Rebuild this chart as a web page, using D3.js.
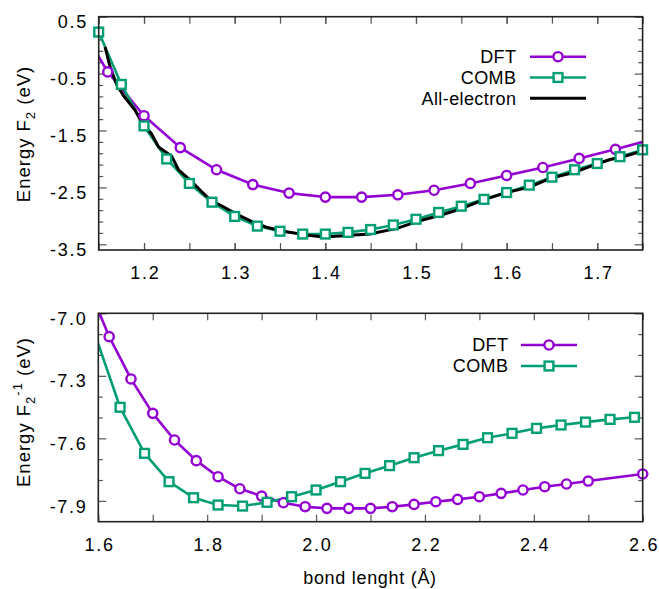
<!DOCTYPE html>
<html><head><meta charset="utf-8">
<script src="https://cdn.jsdelivr.net/npm/d3@7"></script>
<style>
body{margin:0;background:#fff}
svg{display:block}
text{font-family:"Liberation Sans",Arial,Helvetica,sans-serif;fill:#000}
</style></head>
<body><svg id="c" width="659" height="589"></svg>
<script>
// ---------- data (top panel: F2) ----------
const topDftX  = [1.12, 1.16, 1.20, 1.24, 1.28, 1.32, 1.36, 1.40, 1.44, 1.48, 1.52, 1.56, 1.60, 1.64, 1.68, 1.72, 1.76];
const topDftY  = [0.60, -0.47, -1.24, -1.80, -2.19, -2.45, -2.60, -2.67, -2.67, -2.63, -2.55, -2.43, -2.29, -2.15, -1.99, -1.83, -1.66];
const topCombX = [1.150, 1.175, 1.200, 1.225, 1.250, 1.275, 1.300, 1.325, 1.350, 1.375, 1.400, 1.425, 1.450, 1.475, 1.500, 1.525, 1.550, 1.575, 1.600, 1.625, 1.650, 1.675, 1.700, 1.725, 1.750];
const topCombY = [0.23, -0.69, -1.42, -2.00, -2.43, -2.76, -3.01, -3.18, -3.27, -3.32, -3.32, -3.29, -3.24, -3.16, -3.06, -2.94, -2.83, -2.71, -2.59, -2.46, -2.32, -2.19, -2.08, -1.96, -1.84];
const topAeX   = [1.157, 1.1625, 1.170, 1.177, 1.190, 1.199, 1.208, 1.216, 1.2305, 1.238, 1.251, 1.262, 1.273, 1.2875, 1.302, 1.319, 1.335, 1.354, 1.376, 1.398, 1.420, 1.449, 1.479, 1.501, 1.527, 1.549, 1.574, 1.600, 1.626, 1.648, 1.674, 1.696, 1.714, 1.729, 1.750];
const topAeY   = [-0.03, -0.38, -0.70, -0.88, -1.14, -1.40, -1.55, -1.79, -1.95, -2.19, -2.37, -2.55, -2.72, -2.84, -2.97, -3.10, -3.20, -3.27, -3.33, -3.37, -3.35, -3.32, -3.22, -3.10, -2.99, -2.88, -2.72, -2.59, -2.49, -2.34, -2.24, -2.11, -2.01, -1.96, -1.86];

// ---------- data (bottom panel: F2^-1) ----------
const botDftX  = [1.58, 1.62, 1.66, 1.70, 1.74, 1.78, 1.82, 1.86, 1.90, 1.94, 1.98, 2.02, 2.06, 2.10, 2.14, 2.18, 2.22, 2.26, 2.30, 2.34, 2.38, 2.42, 2.46, 2.50, 2.60];
const botDftY  = [-6.86, -7.112, -7.315, -7.480, -7.608, -7.707, -7.784, -7.842, -7.877, -7.909, -7.928, -7.936, -7.936, -7.936, -7.928, -7.917, -7.904, -7.893, -7.880, -7.864, -7.848, -7.832, -7.819, -7.805, -7.771];
const botCombX = [1.595, 1.640, 1.685, 1.730, 1.775, 1.820, 1.865, 1.910, 1.955, 2.000, 2.045, 2.090, 2.135, 2.180, 2.225, 2.270, 2.315, 2.360, 2.405, 2.450, 2.495, 2.540, 2.585];
const botCombY = [-7.11, -7.451, -7.672, -7.808, -7.885, -7.920, -7.925, -7.907, -7.880, -7.848, -7.808, -7.768, -7.731, -7.693, -7.659, -7.629, -7.597, -7.576, -7.552, -7.536, -7.522, -7.509, -7.499];

// ---------- ticks ----------
const topXTicks   = [1.15, 1.20, 1.25, 1.30, 1.35, 1.40, 1.45, 1.50, 1.55, 1.60, 1.65, 1.70, 1.75];
const topXLabels  = [1.2, 1.3, 1.4, 1.5, 1.6, 1.7];
const topYLabels  = [0.5, -0.5, -1.5, -2.5, -3.5];
const topYMinor   = [0.3, 0.1, -0.1, -0.3, -0.7, -0.9, -1.1, -1.3, -1.7, -1.9, -2.1, -2.3, -2.7, -2.9, -3.1, -3.3];
const botXTicks   = [1.7, 1.9, 2.1, 2.3, 2.5];
const botXLabels  = [1.6, 1.8, 2.0, 2.2, 2.4, 2.6];
const botYLabels  = [-7.0, -7.3, -7.6, -7.9];
const botYMinor   = [-7.1, -7.2, -7.4, -7.5, -7.7, -7.8];

const PURPLE = "#9400d3", GREEN = "#009e73";
const NUM_LS = 1.7;
const svg = d3.select("#c");

function zip(xs, ys){ return xs.map((x,i)=>[x, ys[i]]); }

function panel(cfg){
  const x = d3.scaleLinear().domain(cfg.xd).range(cfg.xr);
  const y = d3.scaleLinear().domain(cfg.yd).range(cfg.yr);
  const [x0,x1] = cfg.xr, [y0,y1] = [cfg.yr[1], cfg.yr[0]];
  const g = svg.append("g");
  const id = "clip" + cfg.id;
  svg.append("defs").append("clipPath").attr("id", id)
    .append("rect").attr("x", x0).attr("y", y0).attr("width", x1-x0).attr("height", y1-y0);

  function ax(axis, tx, ty, size, labels){
    const a = g.append("g").attr("transform", `translate(${tx},${ty})`)
      .call(axis.tickSize(size));
    a.select(".domain").remove();
    a.selectAll(".tick line").attr("stroke", "#555").attr("stroke-width", 1.2);
    a.selectAll("text").style("font-size", "18px").style("letter-spacing", NUM_LS + "px").attr("fill", "#000");
    if(!labels) a.selectAll("text").remove();
    return a;
  }
  // x axes
  const bx = ax(d3.axisBottom(x).tickValues(cfg.xLabels).tickFormat(d=>d.toFixed(1)).tickPadding(0), 0, y1, -7, true);
  bx.selectAll("text").attr("y", 29).attr("dy", 0).attr("dx", NUM_LS/2);
  ax(d3.axisBottom(x).tickValues(cfg.xTicks).tickFormat(""), 0, y1, -7, false);
  ax(d3.axisTop(x).tickValues(cfg.xLabels.concat(cfg.xTicks)).tickFormat(""), 0, y0, -7, false);
  // y axes
  const ly = ax(d3.axisLeft(y).tickValues(cfg.yLabels).tickFormat(d=>d.toFixed(1)).tickPadding(12.5), x0, 0, -8, true);
  ly.selectAll("text").attr("dy", "0.62em").attr("dx", NUM_LS);
  ax(d3.axisLeft(y).tickValues(cfg.yMinor).tickFormat(""), x0, 0, -4.5, false);
  ax(d3.axisRight(y).tickValues(cfg.yLabels).tickFormat(""), x1, 0, -8, false);
  ax(d3.axisRight(y).tickValues(cfg.yMinor).tickFormat(""), x1, 0, -4.5, false);

  const line = d3.line().x(d=>x(d[0])).y(d=>y(d[1]));
  const data = g.append("g").attr("clip-path", `url(#${id})`);
  const inR = d => d[0] >= cfg.xd[0]-1e-9 && d[0] <= cfg.xd[1]+1e-9;
  cfg.series.forEach(s=>{
    data.append("path").datum(s.pts).attr("d", line)
      .attr("fill","none").attr("stroke", s.color).attr("stroke-width", s.lw)
      .attr("stroke-linejoin","round");
  });
  const mk = g.append("g");
  cfg.series.forEach(s=>{
    if(!s.marker) return;
    drawMarkers(mk, s.pts.filter(inR).map(d=>[x(d[0]), y(d[1])]), s);
  });
  // frame
  g.append("rect").attr("x", x0).attr("y", y0).attr("width", x1-x0).attr("height", y1-y0)
    .attr("fill","none").attr("stroke","#222").attr("stroke-width",1.6);

  // legend
  const lg = g.append("g");
  cfg.series.forEach((s,i)=>{
    const yy = cfg.leg.y + i*cfg.leg.dy;
    lg.append("text").attr("x", cfg.leg.tx + 0.4).attr("y", yy).attr("dy","0.35em")
      .attr("text-anchor","end").style("font-size","18px").style("letter-spacing","0.4px").text(s.name);
    lg.append("line").attr("x1", cfg.leg.lx0).attr("x2", cfg.leg.lx1).attr("y1", yy).attr("y2", yy)
      .attr("stroke", s.color).attr("stroke-width", s.lw);
    if(s.marker) drawMarkers(lg, [[(cfg.leg.lx0+cfg.leg.lx1)/2, yy]], s);
  });
  return {x, y};
}

function drawMarkers(g, pts, s){
  if(s.marker === "circle"){
    g.selectAll(null).data(pts).enter().append("circle")
      .attr("cx", d=>d[0]).attr("cy", d=>d[1]).attr("r", 4.6)
      .attr("fill","#fff").attr("stroke", s.color).attr("stroke-width", 2.4);
  } else {
    const h = 4.4;
    g.selectAll(null).data(pts).enter().append("rect")
      .attr("x", d=>d[0]-h).attr("y", d=>d[1]-h).attr("width", 2*h).attr("height", 2*h)
      .attr("fill","#fff").attr("stroke", s.color).attr("stroke-width", 2.4);
  }
}

panel({
  id: "top", xd:[1.15,1.75], xr:[98.7,642.6], yd:[-3.6,0.5], yr:[250,16.7],
  xTicks: topXTicks, xLabels: topXLabels, yLabels: topYLabels, yMinor: topYMinor,
  series: [
    {name:"DFT", pts: zip(topDftX, topDftY), color: PURPLE, lw: 2.6, marker:"circle"},
    {name:"COMB", pts: zip(topCombX, topCombY), color: GREEN, lw: 2.6, marker:"square"},
    {name:"All-electron", pts: zip(topAeX, topAeY), color: "#000", lw: 3, marker:null}
  ],
  leg: {tx: 516, lx0: 530, lx1: 586, y: 56.7, dy: 20.8}
});

panel({
  id: "bot", xd:[1.6,2.6], xr:[98.3,642.7], yd:[-8.0,-7.0], yr:[521.7,313.3],
  xTicks: botXTicks, xLabels: botXLabels, yLabels: botYLabels, yMinor: botYMinor,
  series: [
    {name:"DFT", pts: zip(botDftX, botDftY), color: PURPLE, lw: 2.6, marker:"circle"},
    {name:"COMB", pts: zip(botCombX, botCombY), color: GREEN, lw: 2.6, marker:"square"}
  ],
  leg: {tx: 508, lx0: 521, lx1: 577, y: 345, dy: 21}
});

// axis titles
function ytitle(cx, cy, sup){
  const t = svg.append("text").attr("transform", `translate(${cx},${cy}) rotate(-90)`)
    .attr("text-anchor","middle").attr("dy","0.35em").style("font-size","18.5px").style("letter-spacing","1px");
  t.append("tspan").text("Energy F");
  t.append("tspan").attr("dy", 5).style("font-size","13px").text("2");
  if(sup){
    t.append("tspan").attr("dy", -13).style("font-size","13px").text("-1");
    t.append("tspan").attr("dy", 8).text(" (eV)");
  } else {
    t.append("tspan").attr("dy", -5).text(" (eV)");
  }
}
ytitle(24, 134, false);
ytitle(24, 412, true);

svg.append("text").attr("x", 370).attr("y", 584).attr("text-anchor","middle")
  .style("font-size","18px").style("letter-spacing","0.7px").text("bond lenght (Å)");
</script>
</body></html>
